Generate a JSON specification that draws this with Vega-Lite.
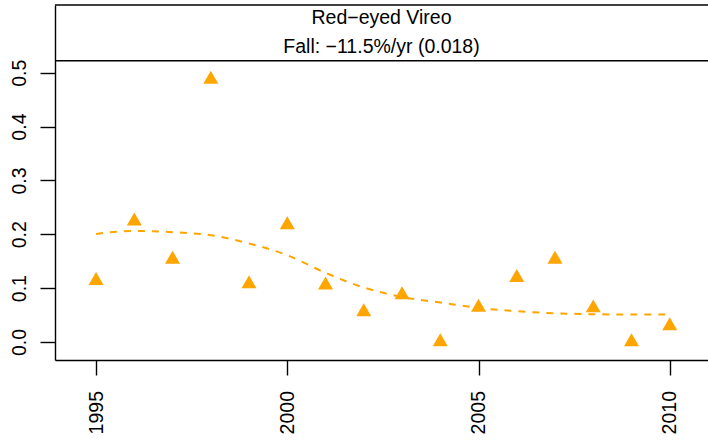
{
  "$schema": "https://vega.github.io/schema/vega-lite/v6.json",
  "width": 653,
  "height": 355,
  "autosize": {"type": "none"},
  "padding": {"left": 55, "top": 5, "right": 0, "bottom": 87},
  "background": "white",
  "config": {
    "view": {"stroke": null},
    "font": "Liberation Sans",
    "axis": {
      "grid": false,
      "domainColor": "black",
      "domainWidth": 1.4,
      "tickColor": "black",
      "tickWidth": 1.4,
      "tickSize": 15,
      "labelFont": "Liberation Sans",
      "labelFontSize": 19.5,
      "labelColor": "black",
      "title": null
    }
  },
  "title": {
    "text": ["Red−eyed Vireo", "Fall: −11.5%/yr (0.018)"],
    "orient": "top",
    "anchor": "middle",
    "frame": "group",
    "baseline": "bottom",
    "offset": -72,
    "lineHeight": 28.5,
    "font": "Liberation Sans",
    "fontSize": 19.5,
    "fontWeight": "normal",
    "color": "black"
  },
  "datasets": {
    "counts": [
      {"year": 1995, "index": 0.114},
      {"year": 1996, "index": 0.2245},
      {"year": 1997, "index": 0.1535},
      {"year": 1998, "index": 0.4875},
      {"year": 1999, "index": 0.1076},
      {"year": 2000, "index": 0.2173},
      {"year": 2001, "index": 0.1056},
      {"year": 2002, "index": 0.0556},
      {"year": 2003, "index": 0.0874},
      {"year": 2004, "index": 0.0},
      {"year": 2005, "index": 0.0641},
      {"year": 2006, "index": 0.1195},
      {"year": 2007, "index": 0.1535},
      {"year": 2008, "index": 0.063},
      {"year": 2009, "index": 0.0},
      {"year": 2010, "index": 0.0299}
    ],
    "trend": [
      {"year": 1995, "index": 0.2007},
      {"year": 1996, "index": 0.2063},
      {"year": 1997, "index": 0.2039},
      {"year": 1998, "index": 0.1983},
      {"year": 1999, "index": 0.1829},
      {"year": 2000, "index": 0.1611},
      {"year": 2001, "index": 0.1283},
      {"year": 2002, "index": 0.1011},
      {"year": 2003, "index": 0.0836},
      {"year": 2004, "index": 0.0732},
      {"year": 2005, "index": 0.0632},
      {"year": 2006, "index": 0.0571},
      {"year": 2007, "index": 0.0533},
      {"year": 2008, "index": 0.0515},
      {"year": 2009, "index": 0.0509},
      {"year": 2010, "index": 0.0509}
    ]
  },
  "layer": [
    {
      "data": {"name": "trend"},
      "mark": {"type": "line", "color": "#FFA500", "strokeDash": [7, 7], "strokeWidth": 2, "interpolate": "monotone"},
      "encoding": {
        "x": {
          "field": "year", "type": "quantitative",
          "scale": {"domain": [1993.927, 2011.0], "nice": false, "zero": false},
          "axis": {
            "values": [1995, 2000, 2005, 2010], "format": "d",
            "labelAngle": 270, "labelAlign": "right", "labelBaseline": "middle",
            "labelPadding": 15.5
          }
        },
        "y": {
          "field": "index", "type": "quantitative",
          "scale": {"domain": [-0.0335, 0.6258], "nice": false, "zero": false},
          "axis": {
            "values": [0, 0.1, 0.2, 0.3, 0.4, 0.5], "format": ".1f",
            "labelAngle": 270, "labelAlign": "center", "labelBaseline": "alphabetic",
            "labelPadding": 15
          }
        }
      }
    },
    {
      "data": {"name": "counts"},
      "mark": {"type": "point", "shape": "M0,-1.1547L1,0.5774L-1,0.5774Z", "filled": true, "color": "#FFA500", "opacity": 1, "size": 225, "strokeWidth": 0},
      "encoding": {
        "x": {"field": "year", "type": "quantitative"},
        "y": {"field": "index", "type": "quantitative"}
      }
    },
    {
      "data": {"values": [{}]},
      "mark": {"type": "rule", "color": "black", "strokeWidth": 1.6},
      "encoding": {"y": {"datum": 0.5223}}
    },
    {
      "data": {"values": [{}]},
      "mark": {"type": "rule", "color": "black", "strokeWidth": 1.4},
      "encoding": {"y": {"datum": 0.6258}}
    }
  ]
}
